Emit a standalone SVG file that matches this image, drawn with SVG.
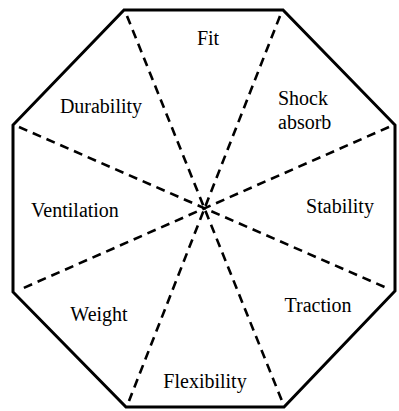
<svg xmlns="http://www.w3.org/2000/svg" width="399" height="411" viewBox="0 0 399 411">
<style>
.oct{fill:#fff;stroke:#000;stroke-width:3;stroke-linejoin:miter}
.dash{fill:none;stroke:#000;stroke-width:2.6;stroke-dasharray:9 6}
.lbl{font-family:"Liberation Serif","Times New Roman",serif;font-size:20px;fill:#000}
.c{text-anchor:middle}
</style>
<rect width="399" height="411" fill="#fff"/>
<g id="octagon">
<polygon class="oct" points="124,10 283,10 395,125 395,291 284,407 126,407 13,292 13,125"/>
</g>
<g id="connectors">
<line class="dash" x1="127" y1="16" x2="282" y2="401"/>
<line class="dash" x1="280" y1="16" x2="129" y2="401"/>
<line class="dash" x1="19" y1="127" x2="389" y2="289"/>
<line class="dash" x1="389" y1="127" x2="19" y2="290"/>
</g>
<g id="fit"><text class="lbl c" x="208" y="45">Fit</text></g>
<g id="shock"><text class="lbl" x="278" y="105">Shock</text><text class="lbl" x="278" y="129">absorb</text></g>
<g id="durability"><text class="lbl c" x="101" y="113">Durability</text></g>
<g id="ventilation"><text class="lbl c" x="75" y="217">Ventilation</text></g>
<g id="stability"><text class="lbl c" x="340" y="213">Stability</text></g>
<g id="weight"><text class="lbl c" x="99" y="321">Weight</text></g>
<g id="traction"><text class="lbl c" x="318" y="312">Traction</text></g>
<g id="flexibility"><text class="lbl c" x="205" y="388">Flexibility</text></g>
</svg>
